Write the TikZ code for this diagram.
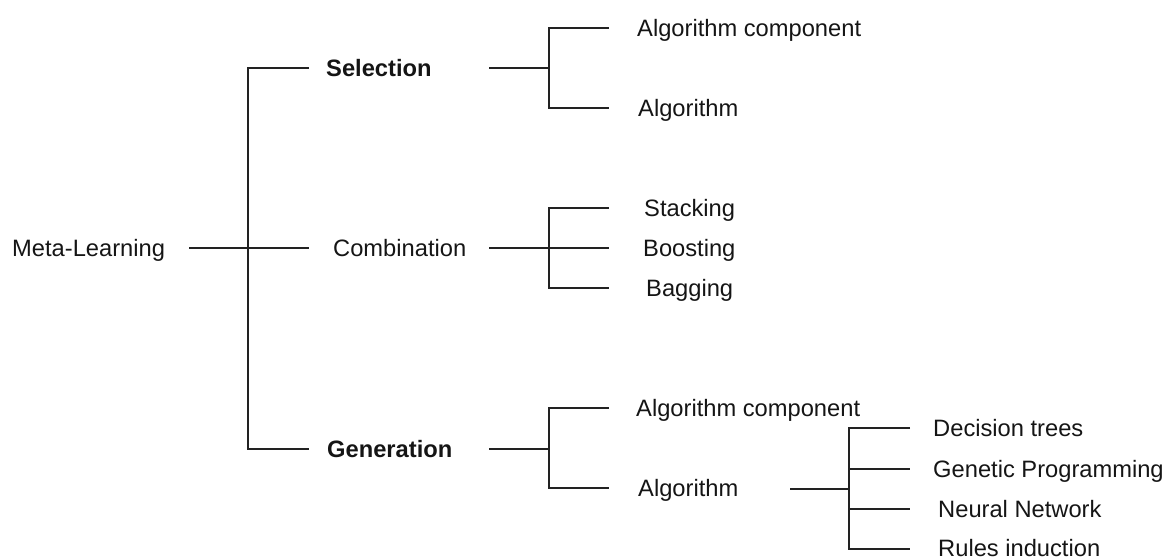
\documentclass[tikz,border=0pt]{standalone}
\usepackage{fontspec}
\setmainfont{Liberation Sans}
\definecolor{ink}{HTML}{151515}
\definecolor{wire}{HTML}{222222}
\begin{document}
\begin{tikzpicture}[x=1pt,y=-1pt,
  lbl/.style={anchor=west, inner sep=0pt, text height=17pt, text depth=0pt,
              text=ink, font=\fontsize{23.7}{28}\selectfont},
  hd/.style={lbl, font=\fontsize{23.7}{28}\selectfont\bfseries},
  branch/.style={draw=wire, line width=1.5pt, line cap=butt, line join=miter}]
\useasboundingbox (0,0) rectangle (1169,559);

% column positions of the tree wiring
\coordinate (m0) at (189,0);
\coordinate (t0) at (248,0);
\coordinate (a1) at (309,0);
\coordinate (b0) at (489,0);
\coordinate (b1) at (549,0);
\coordinate (b2) at (609,0);
\coordinate (c0) at (790,0);
\coordinate (c1) at (849,0);
\coordinate (c2) at (910,0);

% labels
\node[lbl] (ml)   at (12,248)  {Meta-Learning};
\node[hd]  (sel)  at (326,68)  {Selection};
\node[lbl] (comb) at (333,248) {Combination};
\node[hd]  (gen)  at (327,449) {Generation};

\node[lbl] (sac)  at (637,28)  {Algorithm component};
\node[lbl] (sa)   at (638,108) {Algorithm};

\node[lbl] (st)   at (644,208) {Stacking};
\node[lbl] (bo)   at (643,248) {Boosting};
\node[lbl] (ba)   at (646,288) {Bagging};

\node[lbl] (gac)  at (636,408) {Algorithm component};
\node[lbl] (ga)   at (638,488) {Algorithm};

\node[lbl] (dt)   at (933,428) {Decision trees};
\node[lbl] (gp)   at (933,469) {Genetic Programming};
\node[lbl] (nn)   at (938,509) {Neural Network};
\node[lbl] (ri)   at (938,547.5) {Rules induction};

% root
\draw[branch] (ml.east -| m0) -- (comb.west -| a1);
\draw[branch] (sel.west -| a1) -| (ml.east -| t0) |- (gen.west -| a1);

% selection
\draw[branch] (sel.east -| b0) -- (sel.east -| b1);
\draw[branch] (sac.west -| b2) -| (sel.east -| b1) |- (sa.west -| b2);

% combination
\draw[branch] (comb.east -| b0) -- (bo.west -| b2);
\draw[branch] (st.west -| b2) -| (comb.east -| b1) |- (ba.west -| b2);

% generation
\draw[branch] (gen.east -| b0) -- (gen.east -| b1);
\draw[branch] (gac.west -| b2) -| (gen.east -| b1) |- (ga.west -| b2);

% generated algorithms
\draw[branch] ([yshift=-1pt]ga.east -| c0) -- ([yshift=-1pt]ga.east -| c1);
\draw[branch] (dt.west -| c2) -| ([yshift=-1pt]ga.east -| c1) |- ([yshift=-1.5pt]ri.west -| c2);
\draw[branch] (gp.west -| c1) -- (gp.west -| c2);
\draw[branch] (nn.west -| c1) -- (nn.west -| c2);
\end{tikzpicture}
\end{document}
